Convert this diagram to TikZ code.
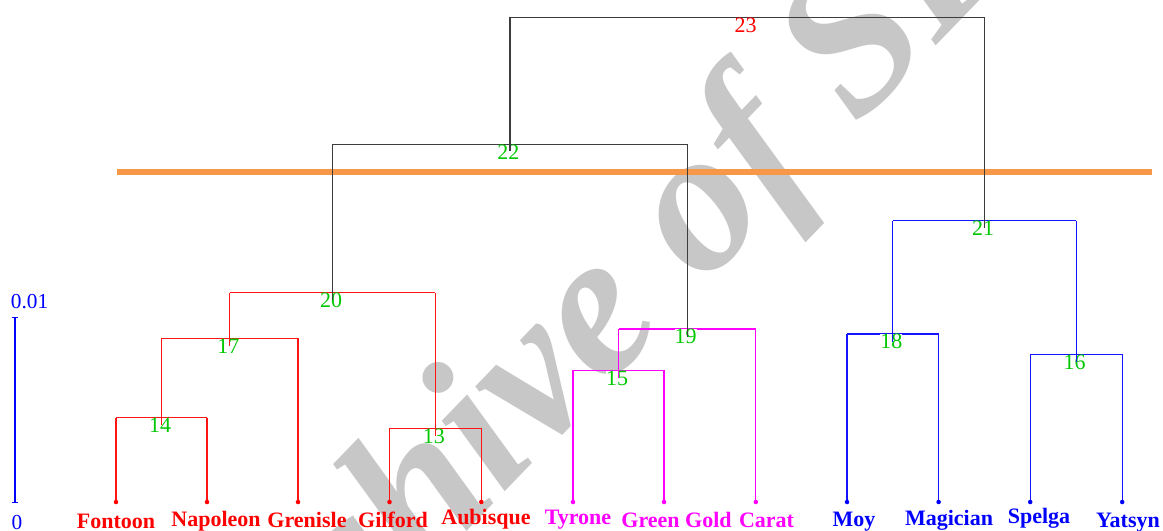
\documentclass[tikz,border=0pt]{standalone}
\usepackage{fontspec}
\setmainfont{Liberation Serif}
\definecolor{cgreen}{RGB}{0,200,0}
\definecolor{corange}{RGB}{247,152,72}
\definecolor{cwm}{RGB}{199,199,199}
\definecolor{cdark}{RGB}{60,60,60}
\definecolor{cred}{RGB}{255,20,20}
\definecolor{cmag}{RGB}{255,0,255}
\definecolor{cblue}{RGB}{20,20,255}
\begin{document}
\begin{tikzpicture}[x=0.75pt,y=-0.75pt,
  link/.style={line width=0.9pt},
  num/.style={fill=white,inner sep=0pt,anchor=north,xshift=-1.1pt,
    font=\fontsize{16.5}{18}\selectfont,text=cgreen},
  leaflab/.style={anchor=base,font=\bfseries\fontsize{16.5}{18}\selectfont},
  dotmark/.style={radius=1.7pt}]
\useasboundingbox (0,0) rectangle (1163,531);
\begin{scope}
\clip (0,0) rectangle (1163,531);
% watermark
\node[font=\bfseries\itshape\fontsize{154}{154}\selectfont,text=cwm,rotate=46,anchor=base,inner sep=0pt] (wm) at (652,340) {Archive of SID};
\end{scope}
% cut line
\coordinate (oa) at (117,172.3);
\coordinate (ob) at (1152,172.3);
\draw[corange,line width=4.2pt] (oa) -- (ob);
% leaves
\coordinate (fon) at (116,502);
\coordinate (nap) at (207,502);
\coordinate (gre) at (298,502);
\coordinate (gil) at (389.5,502);
\coordinate (aub) at (481.3,502);
\coordinate (tyr) at (573,502);
\coordinate (grg) at (664,502);
\coordinate (car) at (755.8,502);
\coordinate (moy) at (847,502);
\coordinate (mag) at (938.6,502);
\coordinate (spe) at (1030.2,502);
\coordinate (yat) at (1122.2,502);
% merge levels (mid x, line y) and end points for parent verticals
\coordinate (m14) at (161.5,417.7); \coordinate (e14) at (161.5,425);
\coordinate (m17) at (229.8,338.3); \coordinate (e17) at (229.8,345.5);
\coordinate (m13) at (435.4,428.3); \coordinate (e13) at (435.4,435.5);
\coordinate (m20) at (332.6,292.7); \coordinate (e20) at (332.6,300);
\coordinate (m15) at (618.5,370.3); \coordinate (e15) at (618.5,377.5);
\coordinate (m19) at (687.2,329);   \coordinate (e19) at (687.2,336.5);
\coordinate (m22) at (509.9,144.3); \coordinate (e22) at (509.9,151.5);
\coordinate (m18) at (892.8,334);   \coordinate (e18) at (892.8,341.5);
\coordinate (m16) at (1076.2,354.3);\coordinate (e16) at (1076.2,361.8);
\coordinate (m21) at (984.5,220.7); \coordinate (e21) at (984.5,228);
\coordinate (m23) at (747.2,17.3);
% horizontal bars
\draw[link,cred] (fon|-m14) -- (nap|-m14);
\draw[link,cred] (e14|-m17) -- (gre|-m17);
\draw[link,cred] (gil|-m13) -- (aub|-m13);
\draw[link,cred] (e17|-m20) -- (e13|-m20);
\draw[link,cmag] (tyr|-m15) -- (grg|-m15);
\draw[link,cmag] (e15|-m19) -- (car|-m19);
\draw[link,cdark] (e20|-m22) -- (e19|-m22);
\draw[link,cblue] (moy|-m18) -- (mag|-m18);
\draw[link,cblue] (spe|-m16) -- (yat|-m16);
\draw[link,cblue] (e18|-m21) -- (e16|-m21);
\draw[link,cdark] (e22|-m23) -- (e21|-m23);
% cluster numbers
\node[num] (n14) at (m14) {14};
\node[num] (n17) at (m17) {17};
\node[num] (n13) at (m13) {13};
\node[num] (n20) at (m20) {20};
\node[num] (n15) at (m15) {15};
\node[num] (n19) at (m19) {19};
\node[num] (n22) at (m22) {22};
\node[num] (n18) at (m18) {18};
\node[num] (n16) at (m16) {16};
\node[num] (n21) at (m21) {21};
\node[num,text=red] (n23) at (m23) {23};
% vertical legs
\draw[link,cred] (fon|-m14) -- (fon) (nap|-m14) -- (nap);
\draw[link,cred] (e14|-m17) -- (e14) (gre|-m17) -- (gre);
\draw[link,cred] (gil|-m13) -- (gil) (aub|-m13) -- (aub);
\draw[link,cred] (e17|-m20) -- (e17) (e13|-m20) -- (e13);
\draw[link,cmag] (tyr|-m15) -- (tyr) (grg|-m15) -- (grg);
\draw[link,cmag] (e15|-m19) -- (e15) (car|-m19) -- (car);
\draw[link,cdark] (e20|-m22) -- (e20) (e19|-m22) -- (e19);
\draw[link,cblue] (moy|-m18) -- (moy) (mag|-m18) -- (mag);
\draw[link,cblue] (spe|-m16) -- (spe) (yat|-m16) -- (yat);
\draw[link,cblue] (e18|-m21) -- (e18) (e16|-m21) -- (e16);
\draw[link,cdark] (e22|-m23) -- (e22) (e21|-m23) -- (e21);
% leaf dots
\fill[red,dotmark] (fon) circle[] (nap) circle[] (gre) circle[] (gil) circle[] (aub) circle[];
\fill[cmag,dotmark] (tyr) circle[] (grg) circle[] (car) circle[];
\fill[blue,dotmark] (moy) circle[] (mag) circle[] (spe) circle[] (yat) circle[];
% leaf labels
\node[leaflab,text=red] (lfon) at (116,528.5) {Fontoon};
\node[leaflab,text=red] (lnap) at (216,526.5) {Napoleon};
\node[leaflab,text=red] (lgre) at (307,527) {Grenisle};
\node[leaflab,text=red] (lgil) at (393,527) {Gilford};
\node[leaflab,text=red] (laub) at (486,524) {Aubisque};
\node[leaflab,text=cmag] (ltyr) at (578,524.5) {Tyrone};
\node[leaflab,text=cmag] (lgrg) at (676.5,527) {Green Gold};
\node[leaflab,text=cmag] (lcar) at (766.5,527) {Carat};
\node[leaflab,text=blue] (lmoy) at (854,526) {Moy};
\node[leaflab,text=blue] (lmag) at (949,525) {Magician};
\node[leaflab,text=blue] (lspe) at (1039,523.5) {Spelga};
\node[leaflab,text=blue] (lyat) at (1128,527) {Yatsyn};
% scale bar
\coordinate (sbt) at (15,317.3);
\coordinate (sbb) at (15,502.7);
\draw[link,blue] (sbt) -- (sbb);
\draw[link,blue] ([xshift=-2.6pt]sbt) -- ([xshift=2.6pt]sbt);
\draw[link,blue] ([xshift=-2.6pt]sbb) -- ([xshift=2.6pt]sbb);
\node[text=blue,font=\fontsize{16}{18}\selectfont,inner sep=0pt] (s01) at (29.5,301.5) {0.01};
\node[text=blue,font=\fontsize{16}{18}\selectfont,inner sep=0pt] (s0) at (17,522.5) {0};
\end{tikzpicture}
\end{document}
